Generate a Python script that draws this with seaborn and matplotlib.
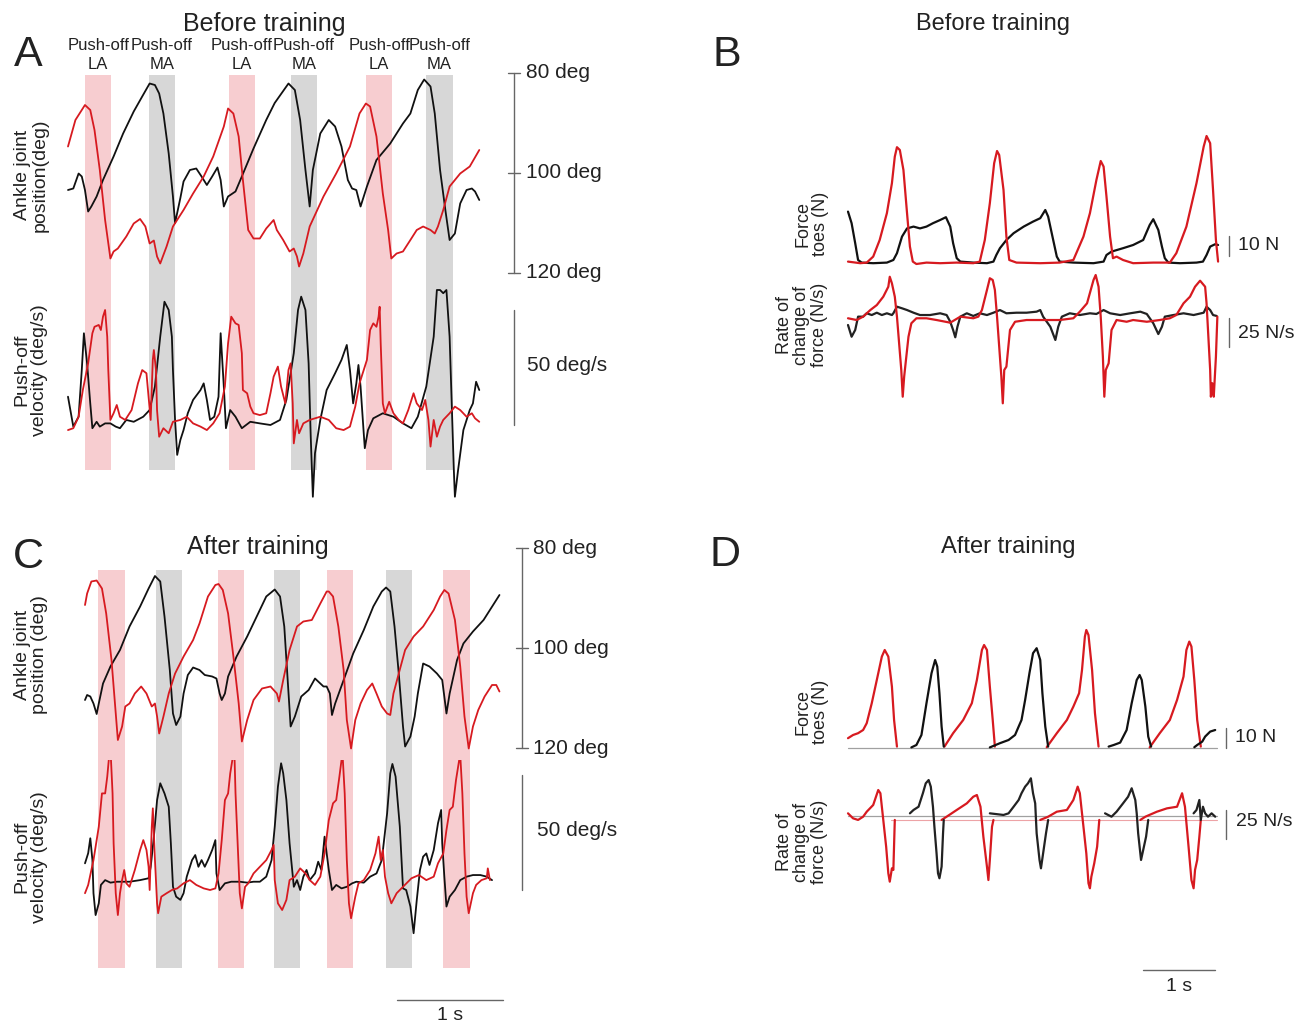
import pandas as pd
import matplotlib
matplotlib.use('Agg')
import matplotlib.pyplot as plt
import seaborn as sns

sns.set_theme(style='white')
plt.rcParams['font.family'] = ['Liberation Sans', 'DejaVu Sans']

W, H = 1299, 1024
RED = '#d71a20'
BLACK = '#111111'
PINK = '#f7cdd0'
GREY = '#d7d7d7'
BAR = '#666666'
TXT = '#222222'

# ---------------- Panel A: before training (t in s) ----------------
a_pink = [(0.16, 0.41), (1.52, 1.76), (2.81, 3.06)]
a_gray = [(0.76, 1.01), (2.10, 2.35), (3.38, 3.63)]

# ankle joint position (deg)
a_ang_black = [(0.00, 103.4), (0.05, 103.1), (0.10, 100.1), (0.13, 100.7), (0.16, 103.4), (0.19, 107.7),
               (0.22, 106.7), (0.27, 104.7), (0.33, 101.4), (0.43, 96.7), (0.52, 92.1), (0.62, 87.7),
               (0.70, 84.7), (0.77, 82.1), (0.82, 82.4), (0.86, 84.1), (0.90, 88.1), (0.95, 96.1),
               (0.99, 104.7), (1.01, 110.0), (1.03, 108.0), (1.06, 105.0), (1.09, 101.7), (1.15, 99.4),
               (1.21, 99.1), (1.26, 100.7), (1.31, 102.4), (1.36, 100.7), (1.41, 98.9), (1.44, 101.4),
               (1.47, 106.7), (1.51, 104.7), (1.58, 103.7), (1.64, 100.7), (1.75, 95.1), (1.87, 89.4),
               (1.95, 86.0), (2.08, 82.1), (2.14, 83.4), (2.19, 89.4), (2.24, 99.4), (2.28, 106.7),
               (2.31, 99.4), (2.38, 92.1), (2.46, 89.4), (2.52, 90.7), (2.58, 94.7), (2.64, 101.4),
               (2.68, 103.1), (2.72, 103.4), (2.76, 106.7), (2.82, 102.7), (2.91, 97.4), (3.04, 94.1),
               (3.16, 90.1), (3.23, 88.1), (3.30, 83.4), (3.36, 81.3), (3.42, 82.7), (3.46, 88.1),
               (3.51, 99.4), (3.56, 107.4), (3.60, 113.4), (3.65, 112.1), (3.70, 106.1), (3.76, 103.4),
               (3.81, 103.1), (3.84, 103.7), (3.88, 105.4)]
a_ang_red = [(0.00, 94.7), (0.07, 89.4), (0.16, 86.4), (0.21, 87.4), (0.25, 91.4), (0.30, 99.4),
             (0.35, 109.4), (0.40, 117.1), (0.43, 115.7), (0.47, 115.1), (0.55, 112.7), (0.62, 110.1),
             (0.68, 109.2), (0.73, 110.7), (0.77, 114.1), (0.81, 113.5), (0.84, 116.7), (0.87, 118.1),
             (0.93, 114.7), (0.99, 110.7), (1.09, 107.4), (1.18, 104.1), (1.28, 100.7), (1.37, 96.7),
             (1.47, 90.7), (1.51, 87.1), (1.56, 88.1), (1.61, 92.7), (1.65, 101.4), (1.70, 111.4),
             (1.75, 113.1), (1.81, 113.1), (1.87, 111.1), (1.94, 109.4), (1.97, 111.4), (2.03, 113.4),
             (2.09, 115.7), (2.13, 115.1), (2.16, 116.7), (2.18, 118.7), (2.22, 116.1), (2.28, 110.7),
             (2.41, 104.7), (2.53, 100.1), (2.66, 94.7), (2.75, 88.1), (2.81, 86.1), (2.85, 86.7),
             (2.91, 92.7), (2.97, 104.1), (3.02, 111.4), (3.05, 117.1), (3.10, 116.1), (3.16, 115.7),
             (3.23, 113.4), (3.29, 111.4), (3.35, 110.7), (3.42, 111.4), (3.46, 112.1), (3.49, 110.7),
             (3.54, 107.4), (3.60, 102.7), (3.70, 100.1), (3.79, 98.7), (3.88, 95.4)]

# push-off velocity (deg/s)
a_vel_black = [(0.00, 12.3), (0.05, -0.7), (0.10, 3.6), (0.13, 23.9), (0.15, 39.9), (0.18, 26.8),
               (0.21, 9.4), (0.23, -1.4), (0.27, 1.4), (0.30, -0.7), (0.35, 0.7), (0.40, 0.7),
               (0.45, -0.7), (0.49, -1.4), (0.55, 2.2), (0.62, 1.4), (0.71, 3.6), (0.77, 6.5),
               (0.82, 16.7), (0.87, 38.4), (0.91, 53.6), (0.95, 50.0), (0.98, 38.4), (0.99, 23.9),
               (1.01, 2.2), (1.03, -13.0), (1.06, -6.5), (1.09, -2.2), (1.13, 5.1), (1.18, 10.9),
               (1.25, 15.2), (1.28, 18.1), (1.31, 10.9), (1.34, 2.2), (1.38, 3.6), (1.42, 12.3),
               (1.44, 39.9), (1.47, 16.7), (1.49, -1.4), (1.53, 6.5), (1.58, 3.6), (1.64, -1.4),
               (1.72, 1.4), (1.81, 0.7), (1.91, 0.0), (2.00, 2.2), (2.06, 10.9), (2.13, 31.2),
               (2.17, 50.0), (2.20, 55.8), (2.24, 50.0), (2.27, 26.8), (2.29, -5.1), (2.31, -31.2),
               (2.33, -12.3), (2.38, 2.2), (2.44, 15.2), (2.52, 22.5), (2.58, 28.3), (2.63, 34.8),
               (2.66, 23.9), (2.69, 9.4), (2.72, 18.1), (2.74, 26.1), (2.76, 16.7), (2.79, -3.6),
               (2.80, -10.1), (2.83, -2.2), (2.88, 2.9), (2.97, 5.1), (3.07, 3.6), (3.16, 0.7),
               (3.24, -1.4), (3.30, 3.6), (3.38, 16.7), (3.45, 38.4), (3.48, 58.7), (3.51, 58.7),
               (3.54, 57.3), (3.57, 58.7), (3.60, 38.4), (3.62, 9.4), (3.64, -19.6), (3.65, -31.2),
               (3.68, -19.6), (3.73, -2.2), (3.79, 6.5), (3.82, 9.4), (3.85, 18.8), (3.88, 15.2)]
a_vel_red = [(0.00, -2.2), (0.05, -1.4), (0.10, 3.6), (0.14, 15.2), (0.19, 26.8), (0.23, 39.9),
             (0.25, 42.7), (0.29, 43.5), (0.31, 41.3), (0.33, 47.1), (0.35, 50.0), (0.37, 38.4),
             (0.38, 23.9), (0.40, 2.2), (0.43, 5.1), (0.46, 8.7), (0.49, 3.6), (0.54, 2.2),
             (0.60, 6.5), (0.66, 18.1), (0.70, 23.9), (0.74, 22.5), (0.76, 12.3), (0.78, 2.2),
             (0.80, 28.3), (0.81, 32.6), (0.83, 23.9), (0.84, 6.5), (0.86, -5.1), (0.90, -1.4),
             (0.95, -3.6), (0.99, 1.4), (1.06, 2.2), (1.12, 3.6), (1.18, 0.7), (1.25, -0.7),
             (1.31, -2.2), (1.37, 0.7), (1.43, 5.1), (1.48, 16.7), (1.51, 35.5), (1.54, 47.1),
             (1.58, 44.2), (1.61, 43.5), (1.64, 31.2), (1.65, 15.2), (1.69, 13.8), (1.72, 8.0),
             (1.75, 5.1), (1.81, 4.3), (1.87, 5.1), (1.91, 13.8), (1.94, 21.0), (1.98, 25.4),
             (2.01, 16.7), (2.05, 9.4), (2.08, 23.9), (2.10, 26.8), (2.12, 9.4), (2.13, -8.0),
             (2.16, 2.2), (2.18, -3.6), (2.22, 0.7), (2.28, 2.2), (2.38, 3.6), (2.46, 2.2),
             (2.53, -1.4), (2.60, -2.2), (2.66, -0.7), (2.71, 8.0), (2.75, 18.1), (2.82, 28.3),
             (2.85, 41.3), (2.88, 44.2), (2.91, 42.7), (2.93, 47.1), (2.94, 51.4), (2.95, 35.5),
             (2.97, 9.4), (2.99, 5.1), (3.03, 10.1), (3.07, 5.1), (3.12, 2.2), (3.16, 0.7),
             (3.21, 6.5), (3.26, 13.8), (3.29, 9.4), (3.34, 6.5), (3.37, 10.9), (3.40, 2.2),
             (3.42, -9.4), (3.45, 2.2), (3.48, -5.1), (3.51, -0.7), (3.54, 2.2), (3.60, 5.1),
             (3.65, 8.0), (3.70, 6.5), (3.76, 3.6), (3.81, 5.1), (3.84, 2.9), (3.88, 1.4)]

# ---------------- Panel C: after training ----------------
c_pink = [(0.125, 0.377), (1.252, 1.503), (2.280, 2.531), (3.380, 3.632)]
c_gray = [(0.667, 0.912), (1.786, 2.028), (2.837, 3.082)]

c_ang_black = [(0.00, 110.4), (0.02, 109.4), (0.05, 109.7), (0.08, 111.1), (0.11, 113.2), (0.13, 111.1),
               (0.17, 107.1), (0.24, 103.7), (0.33, 100.4), (0.42, 95.7), (0.52, 91.7), (0.60, 88.1),
               (0.66, 85.6), (0.71, 86.7), (0.75, 93.7), (0.80, 104.4), (0.83, 113.1), (0.86, 115.4),
               (0.90, 113.7), (0.93, 109.1), (0.97, 105.4), (1.02, 103.9), (1.08, 104.4), (1.13, 105.4),
               (1.20, 105.7), (1.24, 106.1), (1.27, 109.1), (1.29, 110.4), (1.32, 109.1), (1.35, 105.7),
               (1.43, 101.7), (1.53, 97.7), (1.62, 93.7), (1.71, 89.7), (1.79, 88.3), (1.84, 89.7),
               (1.88, 95.7), (1.91, 105.7), (1.94, 115.7), (1.98, 113.7), (2.04, 109.7), (2.11, 108.4),
               (2.17, 106.1), (2.25, 107.7), (2.28, 107.7), (2.31, 109.1), (2.33, 113.4), (2.36, 111.1),
               (2.44, 106.4), (2.53, 101.1), (2.63, 96.4), (2.72, 91.7), (2.80, 88.7), (2.84, 87.9),
               (2.88, 88.7), (2.92, 95.7), (2.96, 105.1), (3.00, 115.7), (3.02, 119.7), (3.07, 117.7),
               (3.11, 113.7), (3.14, 109.1), (3.19, 103.1), (3.25, 103.7), (3.32, 105.1), (3.37, 106.4),
               (3.41, 113.1), (3.44, 109.1), (3.51, 102.4), (3.57, 99.1), (3.66, 96.7), (3.76, 94.4),
               (3.82, 92.4), (3.91, 89.4)]
c_ang_red = [(0.00, 91.4), (0.02, 89.1), (0.06, 86.7), (0.11, 86.5), (0.16, 88.1), (0.20, 93.1),
             (0.25, 102.4), (0.28, 110.4), (0.31, 118.4), (0.35, 115.7), (0.38, 111.7), (0.42, 111.1),
             (0.47, 109.1), (0.53, 107.7), (0.58, 109.1), (0.63, 111.7), (0.66, 111.1), (0.68, 113.7),
             (0.70, 117.1), (0.74, 113.7), (0.79, 109.1), (0.85, 105.1), (0.93, 101.7), (1.02, 98.4),
             (1.08, 95.1), (1.16, 89.7), (1.23, 87.4), (1.26, 87.2), (1.30, 88.4), (1.35, 93.1),
             (1.40, 101.7), (1.45, 111.1), (1.48, 118.7), (1.53, 114.4), (1.59, 110.4), (1.67, 108.1),
             (1.75, 107.7), (1.81, 109.1), (1.83, 110.7), (1.87, 106.4), (1.93, 100.4), (2.00, 95.7),
             (2.06, 94.7), (2.14, 94.4), (2.22, 91.1), (2.28, 88.7), (2.30, 88.7), (2.34, 89.7),
             (2.39, 95.7), (2.44, 104.4), (2.47, 114.4), (2.51, 120.1), (2.55, 114.4), (2.60, 111.1),
             (2.66, 108.4), (2.71, 107.1), (2.75, 109.1), (2.80, 111.7), (2.85, 113.1), (2.88, 113.4),
             (2.91, 109.1), (2.96, 105.1), (3.02, 100.4), (3.10, 97.7), (3.19, 95.7), (3.29, 92.4),
             (3.35, 89.7), (3.39, 88.4), (3.43, 89.1), (3.49, 94.4), (3.54, 103.7), (3.58, 113.7),
             (3.62, 120.1), (3.66, 115.7), (3.71, 112.4), (3.77, 109.7), (3.84, 107.4), (3.88, 107.4),
             (3.91, 108.7)]

c_vel_black = [(0.00, 11.6), (0.03, 16.0), (0.05, 22.5), (0.07, 13.0), (0.08, -1.4), (0.10, -10.9),
               (0.13, -5.8), (0.15, 2.2), (0.19, 4.3), (0.24, 3.2), (0.30, 3.6), (0.42, 3.6),
               (0.52, 4.3), (0.60, 5.1), (0.62, 10.1), (0.65, 23.2), (0.68, 39.1), (0.71, 46.4),
               (0.75, 42.0), (0.79, 36.2), (0.81, 20.3), (0.83, 1.4), (0.86, -2.9), (0.90, -4.3),
               (0.93, -1.4), (0.96, 5.8), (1.01, 13.0), (1.04, 15.2), (1.07, 10.1), (1.10, 13.0),
               (1.13, 10.1), (1.16, 13.0), (1.20, 17.4), (1.23, 21.7), (1.24, 7.2), (1.27, 0.0),
               (1.32, 2.9), (1.38, 3.6), (1.46, 3.6), (1.53, 3.2), (1.59, 3.6), (1.65, 3.6),
               (1.71, 5.8), (1.76, 13.0), (1.79, 27.5), (1.82, 44.9), (1.85, 55.1), (1.87, 50.7),
               (1.90, 39.1), (1.93, 20.3), (1.97, 1.4), (2.00, 4.3), (2.03, 0.0), (2.06, 5.8),
               (2.09, 8.7), (2.12, 4.3), (2.17, 7.2), (2.20, 12.3), (2.23, 8.7), (2.26, 23.2),
               (2.30, 8.7), (2.33, 0.0), (2.37, 2.2), (2.42, 0.7), (2.47, 1.4), (2.52, 2.9),
               (2.56, 3.6), (2.63, 3.2), (2.69, 5.8), (2.75, 7.2), (2.80, 13.0), (2.85, 33.3),
               (2.88, 50.7), (2.90, 54.8), (2.93, 49.3), (2.97, 27.5), (3.00, 0.7), (3.03, 0.0),
               (3.07, -7.2), (3.10, -18.8), (3.13, -4.3), (3.16, 8.7), (3.19, 14.5), (3.22, 15.9),
               (3.25, 10.9), (3.29, 17.4), (3.33, 29.0), (3.36, 34.8), (3.37, 20.3), (3.39, 5.8),
               (3.41, -7.2), (3.44, -2.9), (3.49, 0.0), (3.54, 4.3), (3.60, 5.8), (3.66, 6.5),
               (3.73, 6.5), (3.79, 5.8), (3.84, 4.3)]
c_vel_red = [(0.00, -1.4), (0.03, 2.2), (0.08, 13.0), (0.13, 27.5), (0.16, 42.0), (0.19, 42.0),
             (0.21, 49.3), (0.23, 59.4), (0.24, 61.6), (0.26, 42.0), (0.27, 20.3), (0.29, -1.4),
             (0.31, -10.9), (0.33, -1.4), (0.35, 4.3), (0.37, 8.7), (0.39, 2.9), (0.42, 1.4),
             (0.47, 8.7), (0.52, 17.4), (0.55, 21.7), (0.58, 17.4), (0.60, 10.1), (0.61, 0.0),
             (0.63, 27.5), (0.64, 35.5), (0.66, 13.0), (0.68, -5.8), (0.69, -10.1), (0.72, -2.9),
             (0.77, -1.4), (0.82, 0.0), (0.87, 0.7), (0.93, 2.9), (0.99, 4.3), (1.05, 2.2),
             (1.12, 0.7), (1.18, 0.0), (1.23, 0.7), (1.26, 7.2), (1.29, 21.7), (1.32, 39.1),
             (1.35, 42.0), (1.37, 50.7), (1.39, 56.5), (1.41, 58.7), (1.42, 42.0), (1.44, 20.3),
             (1.46, -1.4), (1.48, -8.0), (1.51, 1.4), (1.54, 2.9), (1.59, 7.2), (1.65, 10.1),
             (1.71, 13.0), (1.76, 17.4), (1.78, 19.6), (1.79, 4.3), (1.82, -5.8), (1.86, -8.7),
             (1.90, -4.3), (1.93, 4.3), (1.98, 5.8), (2.03, 9.4), (2.08, 7.2), (2.12, 4.3),
             (2.17, 2.2), (2.22, 5.8), (2.26, 15.9), (2.30, 30.4), (2.34, 37.7), (2.37, 39.1),
             (2.40, 49.3), (2.42, 56.5), (2.43, 58.7), (2.45, 42.0), (2.47, 13.0), (2.49, -5.8),
             (2.51, -12.3), (2.55, -2.9), (2.58, 2.9), (2.63, 4.3), (2.69, 8.7), (2.74, 15.9),
             (2.77, 23.2), (2.79, 13.0), (2.81, 17.4), (2.83, 5.8), (2.86, -1.4), (2.89, -5.8),
             (2.94, -1.4), (3.00, 1.4), (3.08, 5.1), (3.15, 6.5), (3.22, 4.3), (3.29, 5.8),
             (3.33, 11.6), (3.38, 15.9), (3.41, 26.1), (3.44, 34.8), (3.47, 36.2), (3.50, 47.8),
             (3.53, 56.5), (3.54, 58.7), (3.56, 42.0), (3.58, 15.9), (3.60, -2.9), (3.62, -10.1),
             (3.66, -1.4), (3.69, 2.2), (3.74, 4.3), (3.79, 5.1), (3.80, 9.4), (3.82, 4.3)]

# ---------------- Panel B: force under toes, before training ----------------
b_force_black = [(0.00, 25.2), (0.05, 19.4), (0.10, 9.4), (0.14, 1.0), (0.19, -0.3), (0.35, -0.6),
                 (0.54, -0.3), (0.63, 1.0), (0.68, 4.4), (0.75, 12.7), (0.82, 16.8), (0.91, 17.7),
                 (1.00, 16.8), (1.09, 17.7), (1.18, 19.4), (1.28, 21.0), (1.36, 22.4), (1.42, 17.7),
                 (1.46, 9.4), (1.51, 1.9), (1.56, 0.2), (1.74, -0.3), (1.93, -0.6), (2.02, 0.2),
                 (2.06, 3.5), (2.11, 6.9), (2.20, 11.0), (2.30, 14.4), (2.44, 17.7), (2.57, 20.2),
                 (2.67, 21.9), (2.74, 26.0), (2.78, 22.7), (2.85, 11.0), (2.90, 2.7), (2.94, 0.2),
                 (3.13, -0.3), (3.41, -0.6), (3.55, 0.2), (3.59, 3.5), (3.66, 5.2), (3.82, 6.9),
                 (3.96, 8.5), (4.10, 11.0), (4.19, 18.5), (4.24, 21.4), (4.31, 16.0), (4.36, 7.7),
                 (4.40, 1.9), (4.45, -0.3), (4.61, -0.6), (4.84, -0.3), (4.93, 0.2), (4.98, 3.5),
                 (5.03, 7.7), (5.10, 8.9), (5.14, 8.5)]
b_force_red = [(0.00, 0.2), (0.17, -0.6), (0.26, -0.3), (0.35, 2.7), (0.44, 11.0), (0.54, 24.4),
               (0.61, 39.4), (0.65, 52.7), (0.68, 57.4), (0.72, 56.0), (0.77, 46.0), (0.82, 24.4),
               (0.86, 7.7), (0.90, 0.2), (0.95, -1.0), (1.09, -0.3), (1.28, -0.6), (1.51, -0.3),
               (1.74, -0.6), (1.83, 0.2), (1.90, 11.0), (1.97, 29.4), (2.03, 49.4), (2.07, 55.5),
               (2.10, 53.5), (2.16, 36.0), (2.20, 12.7), (2.24, 1.0), (2.34, -0.3), (2.67, -0.6),
               (2.94, -0.3), (3.13, 1.0), (3.27, 12.7), (3.36, 24.4), (3.45, 41.0), (3.51, 50.5),
               (3.55, 47.7), (3.59, 32.7), (3.64, 12.7), (3.68, 1.9), (3.73, 2.7), (3.82, 1.0),
               (3.96, -0.6), (4.24, -0.3), (4.47, -0.3), (4.56, 4.4), (4.70, 17.7), (4.84, 39.4),
               (4.94, 57.7), (4.98, 63.0), (5.03, 59.4), (5.07, 36.0), (5.11, 11.0), (5.14, 0.2)]
b_rate_black = [(0.00, -6.9), (0.05, -17.0), (0.10, -11.2), (0.14, 0.3), (0.21, 0.3), (0.26, 3.2),
                (0.33, 1.7), (0.40, 3.7), (0.47, 1.7), (0.54, 3.2), (0.61, 1.7), (0.63, 3.2),
                (0.68, 8.9), (0.75, 7.5), (0.82, 6.0), (0.91, 3.7), (1.00, 1.7), (1.14, 1.7),
                (1.28, 3.2), (1.37, 1.7), (1.42, -4.1), (1.46, -11.2), (1.49, -17.5), (1.52, -8.4),
                (1.56, 0.3), (1.65, 3.2), (1.74, 0.9), (1.83, 3.2), (1.93, 1.7), (2.02, 3.7),
                (2.11, 6.0), (2.20, 3.2), (2.34, 3.7), (2.48, 3.7), (2.62, 4.6), (2.67, 6.0),
                (2.71, 0.3), (2.81, -8.4), (2.88, -19.8), (2.92, -8.4), (2.97, 0.3), (3.08, 3.2),
                (3.22, 1.7), (3.36, 3.2), (3.45, 2.6), (3.55, 6.0), (3.64, 3.2), (3.78, 1.7),
                (3.92, 3.2), (4.06, 4.6), (4.15, 2.6), (4.24, -5.4), (4.31, -14.7), (4.36, -8.4),
                (4.40, 0.3), (4.52, 1.7), (4.66, 3.2), (4.80, 1.7), (4.94, 3.7), (4.98, 8.9),
                (5.03, 6.0), (5.07, 1.7), (5.12, 0.9)]
b_rate_red = [(0.00, -1.1), (0.12, -2.6), (0.21, 0.3), (0.31, 6.0), (0.40, 10.3), (0.49, 17.5),
              (0.56, 26.1), (0.58, 34.7), (0.61, 29.0), (0.65, 17.5), (0.68, 0.3), (0.71, -22.7),
              (0.74, -45.7), (0.76, -68.7), (0.78, -51.5), (0.80, -39.9), (0.84, -17.0), (0.88, -5.4),
              (0.95, -1.1), (1.09, -1.1), (1.23, -2.6), (1.42, -4.9), (1.56, 0.3), (1.74, -1.1),
              (1.81, 0.3), (1.86, 6.0), (1.93, 23.3), (1.97, 33.4), (2.01, 31.9), (2.04, 23.3),
              (2.07, 0.3), (2.10, -25.6), (2.13, -51.5), (2.15, -74.4), (2.17, -45.7), (2.20, -42.8),
              (2.25, -11.2), (2.32, -4.1), (2.48, -2.6), (2.67, -2.6), (2.94, -2.6), (3.13, -1.1),
              (3.22, 4.6), (3.32, 11.8), (3.41, 31.9), (3.44, 36.2), (3.48, 26.1), (3.51, 0.3),
              (3.54, -34.2), (3.56, -68.7), (3.58, -45.7), (3.62, -39.9), (3.66, -11.2), (3.73, -2.6),
              (3.87, -4.1), (3.96, -2.6), (4.15, -4.1), (4.33, -2.6), (4.47, -1.1), (4.56, 1.7),
              (4.66, 11.8), (4.75, 17.5), (4.82, 26.1), (4.89, 31.3), (4.96, 26.1), (4.98, 11.8),
              (5.00, -11.2), (5.03, -45.7), (5.04, -68.7), (5.06, -57.1), (5.08, -68.7), (5.11, -34.2),
              (5.13, 0.3)]

# ---------------- Panel D: force under toes, after training (None = gap) ----------------
d_force_black = [(0.88, 0.3), (0.95, 1.5), (1.02, 6.5), (1.09, 22.4), (1.16, 37.4), (1.21, 44.0),
                 (1.24, 40.7), (1.27, 27.4), (1.30, 10.7), (1.33, 0.7), None,
                 (1.97, 0.3), (2.11, 2.4), (2.23, 4.0), (2.32, 6.5), (2.37, 10.7), (2.41, 14.0),
                 (2.46, 24.0), (2.52, 37.4), (2.57, 47.4), (2.62, 49.9), (2.67, 44.0), (2.70, 27.4),
                 (2.74, 10.7), (2.78, 0.7), None,
                 (3.62, 0.7), (3.69, 1.5), (3.78, 2.7), (3.87, 9.0), (3.94, 22.4), (4.01, 34.0),
                 (4.05, 36.5), (4.08, 34.0), (4.13, 20.7), (4.17, 5.7), (4.21, 0.7), None,
                 (4.81, 0.4), (4.85, 1.5), (4.92, 3.2), (4.96, 5.7), (5.03, 8.2), (5.10, 9.0)]
d_force_red = [(0.00, 4.9), (0.07, 6.5), (0.14, 7.4), (0.21, 9.0), (0.26, 12.4), (0.33, 22.4),
               (0.40, 34.0), (0.47, 45.7), (0.51, 49.0), (0.56, 45.7), (0.61, 30.7), (0.64, 14.0),
               (0.68, 0.7), None,
               (1.34, 0.7), (1.46, 7.4), (1.60, 14.0), (1.72, 22.4), (1.79, 34.0), (1.86, 49.0),
               (1.89, 51.5), (1.93, 49.0), (1.97, 30.7), (2.01, 14.0), (2.04, 0.7), None,
               (2.76, 0.4), (2.90, 7.4), (3.04, 14.0), (3.13, 20.7), (3.21, 27.4), (3.25, 39.0),
               (3.29, 55.7), (3.31, 59.0), (3.34, 56.5), (3.39, 39.0), (3.43, 17.4), (3.48, 0.7), None,
               (4.19, 0.3), (4.33, 7.4), (4.47, 14.0), (4.57, 24.0), (4.66, 35.7), (4.70, 49.0),
               (4.74, 53.2), (4.77, 50.7), (4.81, 34.0), (4.85, 14.0), (4.90, 0.7)]
d_rate_black = [(0.86, 2.3), (0.91, 5.2), (0.98, 8.0), (1.04, 19.6), (1.08, 28.2), (1.12, 31.0),
                (1.15, 25.3), (1.18, 8.0), (1.20, -9.2), (1.23, -32.2), (1.25, -49.4), (1.27, -53.7),
                (1.30, -43.7), (1.32, -14.9), (1.33, -3.4), None,
                (1.97, 2.3), (2.16, 0.9), (2.23, 2.3), (2.30, 8.0), (2.37, 13.8), (2.41, 19.6),
                (2.46, 25.3), (2.50, 28.2), (2.54, 32.5), (2.57, 19.6), (2.60, 10.9), (2.62, -14.9),
                (2.66, -37.9), (2.68, -45.1), (2.71, -32.2), (2.75, -14.9), (2.78, -3.4), None,
                (3.57, 2.3), (3.66, -0.6), (3.73, 3.7), (3.82, 10.9), (3.89, 16.6), (3.94, 23.9),
                (3.99, 13.8), (4.01, 2.3), (4.03, -14.9), (4.07, -37.9), (4.10, -29.3), (4.14, -17.8),
                (4.17, -3.4), None,
                (4.80, 2.3), (4.84, 5.2), (4.88, 13.8), (4.90, -3.4), (4.93, 8.0), (4.96, 2.3),
                (5.00, -0.6), (5.05, 2.3), (5.10, -0.6)]
d_rate_red = [(0.00, 2.3), (0.07, -2.0), (0.14, -3.4), (0.21, -0.6), (0.26, 3.7), (0.35, 9.5),
              (0.42, 22.4), (0.45, 19.6), (0.49, -3.4), (0.53, -26.5), (0.56, -49.4), (0.58, -56.6),
              (0.61, -45.1), (0.63, -46.5), (0.65, -3.4), None,
              (1.30, -3.4), (1.37, -0.6), (1.51, 5.2),
              (1.65, 10.9), (1.74, 16.6), (1.79, 18.1), (1.84, 8.0), (1.88, -17.8), (1.93, -43.7),
              (1.95, -55.2), (1.97, -37.9), (2.00, -9.2), (2.02, -3.4), None,
              (2.67, -3.4), (2.78, -0.6), (2.90, 3.7), (3.04, 5.2), (3.13, 13.8), (3.19, 25.3),
              (3.22, 19.6), (3.26, -3.4), (3.31, -32.2), (3.34, -58.0), (3.36, -62.3), (3.38, -52.3),
              (3.42, -40.8), (3.46, -26.5), (3.49, -3.4), None,
              (4.06, -3.4), (4.13, -0.6), (4.29, 3.7),
              (4.43, 6.6), (4.57, 8.0), (4.64, 19.6), (4.68, 8.0), (4.73, -26.5), (4.77, -55.2),
              (4.80, -62.3), (4.82, -46.5), (4.85, -37.9), (4.88, -17.8), (4.90, -3.4)]

fig = plt.figure(figsize=(W / 100, H / 100), dpi=100)


def make_ax(box, x0, sx, y0, sy):
    # box in pixels (left, top, right, bottom); x0/y0 = pixel of zero, sx/sy = pixels per unit
    l, t, r, b = box
    ax = fig.add_axes([l / W, 1 - b / H, (r - l) / W, (b - t) / H])
    ax.set_xlim((l - x0) / sx, (r - x0) / sx)
    ax.set_ylim((y0 - b) / sy, (y0 - t) / sy)
    ax.axis('off')
    return ax


def trace(ax, pts, color, lw=1.3):
    rows, seg = [], 0
    for p in pts:
        if p is None:
            seg += 1
            continue
        rows.append((p[0], p[1], seg))
    df = pd.DataFrame(rows, columns=['t', 'v', 'seg'])
    sns.lineplot(data=df, x='t', y='v', units='seg', estimator=None, sort=False,
                 color=color, linewidth=lw, ax=ax, legend=False)
    ax.axis('off')


def vbar(ax, t, lo, hi, ticks=(), dt=0.055):
    ax.plot([t, t], [lo, hi], color=BAR, lw=1.0)
    for v in ticks:
        ax.plot([t - dt, t + dt], [v, v], color=BAR, lw=1.0)


def ftext(x, y, s, **kw):
    kw.setdefault('color', TXT)
    kw.setdefault('ha', 'center')
    kw.setdefault('va', 'center')
    fig.text(x / W, 1 - y / H, s, **kw)


# ---- Panel A ----
ax_ab = make_ax((55, 75, 640, 470), 68, 106, 470, 395)
for t0, t1 in a_pink:
    ax_ab.axvspan(t0, t1, color=PINK, lw=0)
    ax_ab.text((t0 + t1) / 2, 1.05, 'Push-off\nLA', transform=ax_ab.get_xaxis_transform(),
               ha='center', va='center', fontsize=12, color=TXT, linespacing=1.3)
for t0, t1 in a_gray:
    ax_ab.axvspan(t0, t1, color=GREY, lw=0)
    ax_ab.text((t0 + t1) / 2, 1.05, 'Push-off\nMA', transform=ax_ab.get_xaxis_transform(),
               ha='center', va='center', fontsize=12, color=TXT, linespacing=1.3)

ax_ap = make_ax((55, 40, 640, 285), 68, 106, -327, -5)
trace(ax_ap, a_ang_black, BLACK)
trace(ax_ap, a_ang_red, RED)
vbar(ax_ap, 4.21, 80, 120, ticks=(80, 100, 120))
for d in (80, 100, 120):
    ax_ap.text(4.32, d, f'{d} deg', ha='left', va='center', fontsize=15, color=TXT)

ax_av = make_ax((55, 285, 640, 510), 68, 106, 425, 2.3)
trace(ax_av, a_vel_black, BLACK)
trace(ax_av, a_vel_red, RED)
vbar(ax_av, 4.21, 0, 50)
ax_av.text(4.33, 26, '50 deg/s', ha='left', va='center', fontsize=15, color=TXT)

# ---- Panel C ----
ax_cb = make_ax((55, 570, 640, 968), 85, 106, 968, 398)
for t0, t1 in c_pink:
    ax_cb.axvspan(t0, t1, color=PINK, lw=0)
for t0, t1 in c_gray:
    ax_cb.axvspan(t0, t1, color=GREY, lw=0)

ax_cp = make_ax((55, 530, 640, 760), 85, 106, 148, -5)
trace(ax_cp, c_ang_black, BLACK)
trace(ax_cp, c_ang_red, RED)
vbar(ax_cp, 4.12, 80, 120, ticks=(80, 100, 120))
for d in (80, 100, 120):
    ax_cp.text(4.23, d, f'{d} deg', ha='left', va='center', fontsize=15, color=TXT)

ax_cv = make_ax((55, 760, 640, 1024), 85, 106, 890, 2.3)
trace(ax_cv, c_vel_black, BLACK)
trace(ax_cv, c_vel_red, RED)
vbar(ax_cv, 4.12, 0, 50)
ax_cv.text(4.26, 26, '50 deg/s', ha='left', va='center', fontsize=15, color=TXT)
ax_cv.plot([2.943, 3.943], [-47.8, -47.8], color=BAR, lw=1.0)
ax_cv.text(3.44, -54.5, '1 s', ha='center', va='center', fontsize=14, color=TXT)

# ---- Panel B ----
ax_bf = make_ax((835, 110, 1299, 290), 848, 72, 262, 2)
trace(ax_bf, b_force_black, BLACK, 1.6)
trace(ax_bf, b_force_red, RED, 1.6)
vbar(ax_bf, 5.29, 3, 13)
ax_bf.text(5.42, 8, '10 N', ha='left', va='center', fontsize=14, color=TXT)

ax_br = make_ax((835, 250, 1299, 420), 848, 72, 317, 1.16)
trace(ax_br, b_rate_black, '#222222', 1.6)
trace(ax_br, b_rate_red, RED, 1.6)
vbar(ax_br, 5.29, -26, -1)
ax_br.text(5.42, -14, '25 N/s', ha='left', va='center', fontsize=14, color=TXT)

# ---- Panel D ----
ax_df = make_ax((835, 600, 1299, 775), 848, 72, 748, 2)
ax_df.plot([0, 5.12], [0, 0], color='#a0a0a0', lw=0.9)
trace(ax_df, d_force_red, RED, 1.6)
trace(ax_df, d_force_black, BLACK, 1.6)
vbar(ax_df, 5.25, 0, 10)
ax_df.text(5.37, 5.5, '10 N', ha='left', va='center', fontsize=14, color=TXT)

ax_dr = make_ax((835, 765, 1299, 1010), 848, 72, 816, 1.16)
ax_dr.plot([0, 5.12], [0, 0], color='#a0a0a0', lw=0.9)
ax_dr.plot([0.6, 5.12], [-3.4, -3.4], color='#eda3a6', lw=0.8)
trace(ax_dr, d_rate_red, RED, 1.6)
trace(ax_dr, d_rate_black, '#222222', 1.6)
vbar(ax_dr, 5.25, -20, 5)
ax_dr.text(5.39, -5, '25 N/s', ha='left', va='center', fontsize=14, color=TXT)
ax_dr.plot([4.10, 5.10], [-132.8, -132.8], color=BAR, lw=1.0)
ax_dr.text(4.6, -147, '1 s', ha='center', va='center', fontsize=14, color=TXT)

# ---- titles, panel letters, axis labels ----
ftext(264, 24, 'Before training', fontsize=18)
ftext(993, 24, 'Before training', fontsize=17)
ftext(258, 547, 'After training', fontsize=18)
ftext(1008, 547, 'After training', fontsize=17)
for x, y, s in [(28, 55, 'A'), (727, 55, 'B'), (28, 557, 'C'), (725, 555, 'D')]:
    ftext(x, y, s, fontsize=31)

lab = dict(rotation=90, fontsize=14, linespacing=1.05, multialignment='center')
ftext(31, 175, 'Ankle joint\nposition(deg)', **lab)
ftext(31, 370, 'Push-off\nvelocity (deg/s)', **lab)
ftext(31, 655, 'Ankle joint\nposition (deg)', **lab)
ftext(31, 857, 'Push-off\nvelocity (deg/s)', **lab)
lab_b = dict(rotation=90, fontsize=13, linespacing=1.05, multialignment='center')
ftext(812, 224, 'Force\ntoes (N)', **lab_b)
ftext(802, 325, 'Rate of\nchange of\nforce (N/s)', **lab_b)
ftext(812, 712, 'Force\ntoes (N)', **lab_b)
ftext(802, 842, 'Rate of\nchange of\nforce (N/s)', **lab_b)

fig.savefig('out.png', dpi=100, facecolor='white')
